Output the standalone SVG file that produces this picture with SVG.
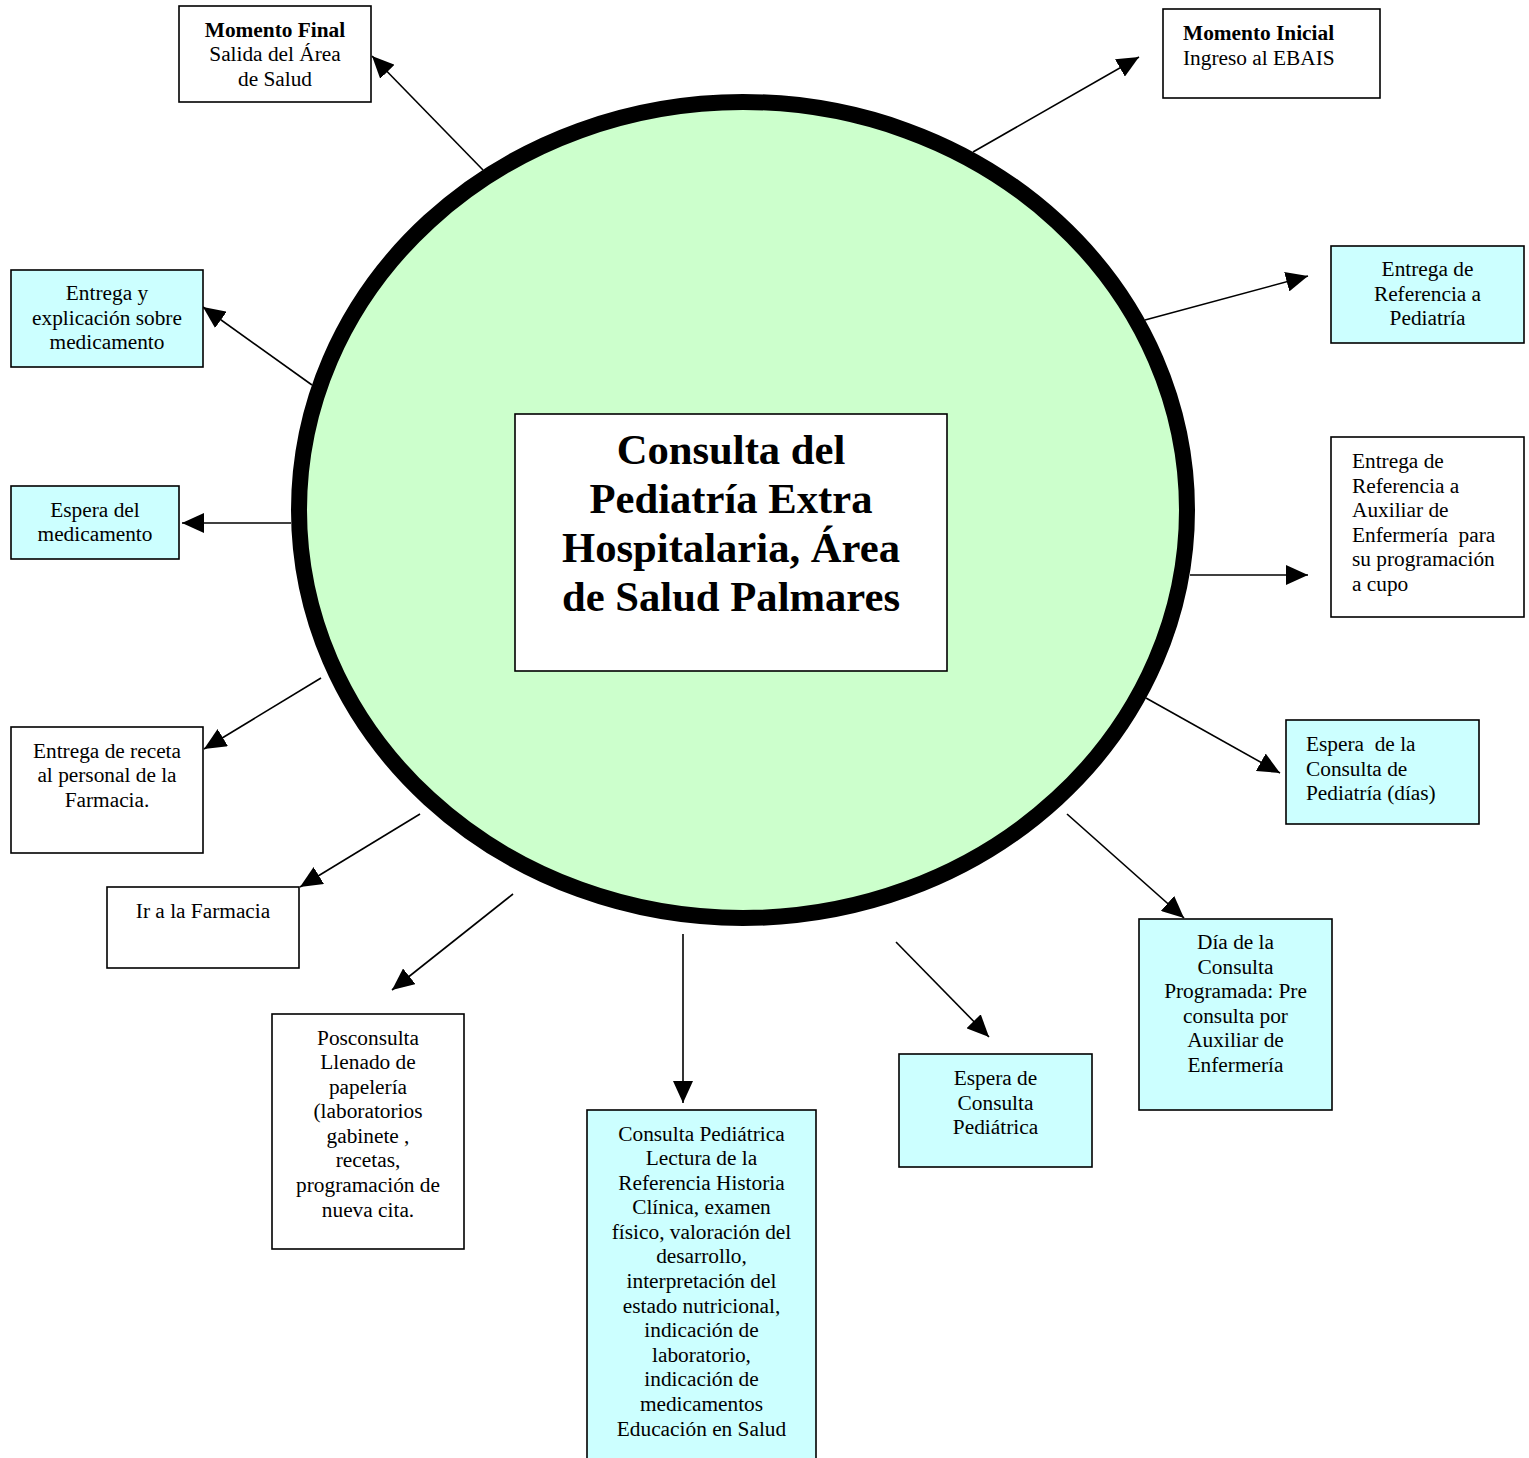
<svg xmlns="http://www.w3.org/2000/svg" width="1529" height="1458" viewBox="0 0 1529 1458">
<style>
.box{stroke:#000;stroke-width:1.6}
.w{fill:#fff}
.c{fill:#ccffff}
.t{font-family:"Liberation Serif","Times New Roman",serif;font-size:21.33px;fill:#000}
.m{text-anchor:middle}
.b{font-weight:bold}
.title{font-family:"Liberation Serif","Times New Roman",serif;font-size:42.67px;font-weight:bold;fill:#000;text-anchor:middle}
.conn{stroke:#000;stroke-width:1.6;fill:none;marker-end:url(#ah)}
</style>
<defs>
<marker id="ah" markerUnits="userSpaceOnUse" markerWidth="22" markerHeight="20" refX="22" refY="10" orient="auto">
<path d="M0,0 L22,10 L0,20 Z" fill="#000"/>
</marker>
</defs>
<rect width="1529" height="1458" fill="#fff"/>

<g id="circle">
<ellipse cx="743" cy="510" rx="444" ry="408" fill="#ccffcc" stroke="#000" stroke-width="16"/>
</g>

<g id="center">
<rect class="box w" x="515" y="414" width="432" height="257"/>
<text class="title" x="731" y="464">Consulta del</text>
<text class="title" x="731" y="513">Pediatría Extra</text>
<text class="title" x="731" y="562">Hospitalaria, Área</text>
<text class="title" x="731" y="611">de Salud Palmares</text>
</g>

<g id="connectors">
<line class="conn" x1="483" y1="170" x2="372" y2="56"/>
<line class="conn" x1="973" y1="152" x2="1139" y2="57"/>
<line class="conn" x1="1145" y1="320" x2="1308" y2="276"/>
<line class="conn" x1="1190" y1="575" x2="1308" y2="575"/>
<line class="conn" x1="1146" y1="698" x2="1280" y2="773"/>
<line class="conn" x1="1067" y1="814" x2="1184" y2="918"/>
<line class="conn" x1="896" y1="942" x2="989" y2="1037"/>
<line class="conn" x1="683" y1="934" x2="683" y2="1103"/>
<line class="conn" x1="513" y1="894" x2="392" y2="990"/>
<line class="conn" x1="420" y1="814" x2="300" y2="887"/>
<line class="conn" x1="321" y1="678" x2="204" y2="749"/>
<line class="conn" x1="291" y1="523" x2="182" y2="523"/>
<line class="conn" x1="312" y1="385" x2="203" y2="307"/>
</g>

<g id="momento-final">
<rect class="box w" x="179" y="6" width="192" height="96"/>
<text class="t m b" x="275" y="37">Momento Final</text>
<text class="t m" x="275" y="61">Salida del Área</text>
<text class="t m" x="275" y="86">de Salud</text>
</g>

<g id="momento-inicial">
<rect class="box w" x="1163" y="9" width="217" height="89"/>
<text class="t b" x="1183" y="40">Momento Inicial</text>
<text class="t" x="1183" y="64.5">Ingreso al EBAIS</text>
</g>

<g id="entrega-explicacion">
<rect class="box c" x="11" y="270" width="192" height="97"/>
<text class="t m" x="107" y="300">Entrega y</text>
<text class="t m" x="107" y="324.5">explicación sobre</text>
<text class="t m" x="107" y="349">medicamento</text>
</g>

<g id="espera-medicamento">
<rect class="box c" x="11" y="486" width="168" height="73"/>
<text class="t m" x="95" y="517">Espera del</text>
<text class="t m" x="95" y="541">medicamento</text>
</g>

<g id="entrega-receta">
<rect class="box w" x="11" y="727" width="192" height="126"/>
<text class="t m" x="107" y="757.5">Entrega de receta</text>
<text class="t m" x="107" y="782">al personal de la</text>
<text class="t m" x="107" y="806.5">Farmacia.</text>
</g>

<g id="ir-farmacia">
<rect class="box w" x="107" y="887" width="192" height="81"/>
<text class="t m" x="203" y="918">Ir a la Farmacia</text>
</g>

<g id="posconsulta">
<rect class="box w" x="272" y="1014" width="192" height="235"/>
<text class="t m" x="368" y="1044.5">Posconsulta</text>
<text class="t m" x="368" y="1069.1">Llenado de</text>
<text class="t m" x="368" y="1093.7">papelería</text>
<text class="t m" x="368" y="1118.2">(laboratorios</text>
<text class="t m" x="368" y="1142.8">gabinete ,</text>
<text class="t m" x="368" y="1167.4">recetas,</text>
<text class="t m" x="368" y="1192">programación de</text>
<text class="t m" x="368" y="1216.6">nueva cita.</text>
</g>

<g id="consulta-pediatrica">
<rect class="box c" x="587" y="1110" width="229" height="370"/>
<text class="t m" x="701.5" y="1140.5">Consulta Pediátrica</text>
<text class="t m" x="701.5" y="1165.1">Lectura de la</text>
<text class="t m" x="701.5" y="1189.7">Referencia Historia</text>
<text class="t m" x="701.5" y="1214.2">Clínica, examen</text>
<text class="t m" x="701.5" y="1238.8">físico, valoración del</text>
<text class="t m" x="701.5" y="1263.4">desarrollo,</text>
<text class="t m" x="701.5" y="1288">interpretación del</text>
<text class="t m" x="701.5" y="1312.6">estado nutricional,</text>
<text class="t m" x="701.5" y="1337.1">indicación de</text>
<text class="t m" x="701.5" y="1361.7">laboratorio,</text>
<text class="t m" x="701.5" y="1386.3">indicación de</text>
<text class="t m" x="701.5" y="1410.9">medicamentos</text>
<text class="t m" x="701.5" y="1435.5">Educación en Salud</text>
</g>

<g id="espera-consulta-pediatrica">
<rect class="box c" x="899" y="1054" width="193" height="113"/>
<text class="t m" x="995.5" y="1085">Espera de</text>
<text class="t m" x="995.5" y="1109.5">Consulta</text>
<text class="t m" x="995.5" y="1134">Pediátrica</text>
</g>

<g id="dia-consulta">
<rect class="box c" x="1139" y="919" width="193" height="191"/>
<text class="t m" x="1235.5" y="949">Día de la</text>
<text class="t m" x="1235.5" y="973.6">Consulta</text>
<text class="t m" x="1235.5" y="998.2">Programada: Pre</text>
<text class="t m" x="1235.5" y="1022.7">consulta por</text>
<text class="t m" x="1235.5" y="1047.3">Auxiliar de</text>
<text class="t m" x="1235.5" y="1071.9">Enfermería</text>
</g>

<g id="espera-consulta-dias">
<rect class="box c" x="1286" y="720" width="193" height="104"/>
<text class="t" x="1306" y="751" xml:space="preserve">Espera  de la</text>
<text class="t" x="1306" y="775.5">Consulta de</text>
<text class="t" x="1306" y="800">Pediatría (días)</text>
</g>

<g id="entrega-ref-auxiliar">
<rect class="box w" x="1331" y="437" width="193" height="180"/>
<text class="t" x="1352" y="468">Entrega de</text>
<text class="t" x="1352" y="492.6">Referencia a</text>
<text class="t" x="1352" y="517.2">Auxiliar de</text>
<text class="t" x="1352" y="541.7" xml:space="preserve">Enfermería  para</text>
<text class="t" x="1352" y="566.3">su programación</text>
<text class="t" x="1352" y="590.9">a cupo</text>
</g>

<g id="entrega-ref-pediatria">
<rect class="box c" x="1331" y="246" width="193" height="97"/>
<text class="t m" x="1427.5" y="276">Entrega de</text>
<text class="t m" x="1427.5" y="300.5">Referencia a</text>
<text class="t m" x="1427.5" y="325">Pediatría</text>
</g>
</svg>
